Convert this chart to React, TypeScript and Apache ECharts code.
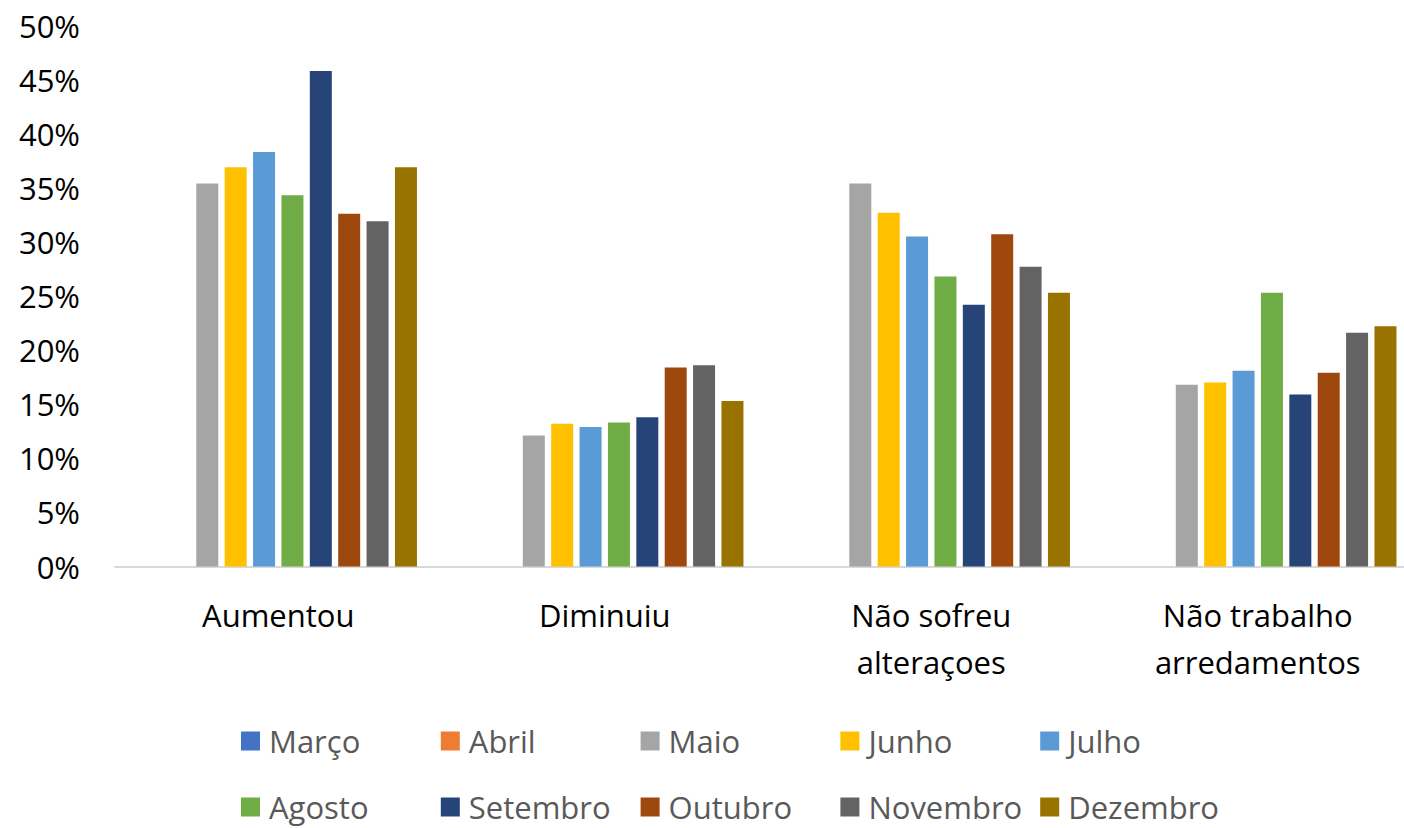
import React, { useEffect, useRef } from "react";
import * as echarts from "echarts";

const categories = ["Aumentou", "Diminuiu", "Não sofreu\nalteraçoes", "Não trabalho\narredamentos"];
const seriesNames = ["Março", "Abril", "Maio", "Junho", "Julho", "Agosto", "Setembro", "Outubro", "Novembro", "Dezembro"];
const colors = ["#4472C4", "#ED7D31", "#A5A5A5", "#FFC000", "#5B9BD5", "#70AD47", "#264478", "#9E480E", "#636363", "#997300"];

const marco: (number | null)[] = [null, null, null, null];
const abril: (number | null)[] = [null, null, null, null];
const maio = [35.4, 12.1, 35.4, 16.8];
const junho = [36.9, 13.2, 32.7, 17.0];
const julho = [38.3, 12.9, 30.5, 18.1];
const agosto = [34.3, 13.3, 26.8, 25.3];
const setembro = [45.8, 13.8, 24.2, 15.9];
const outubro = [32.6, 18.4, 30.7, 17.9];
const novembro = [31.9, 18.6, 27.7, 21.6];
const dezembro = [36.9, 15.3, 25.3, 22.2];

const seriesData = [marco, abril, maio, junho, julho, agosto, setembro, outubro, novembro, dezembro];
const yTicks = { min: 0, max: 50, interval: 5 };

const FONT = "'Open Sans', 'Noto Sans', sans-serif";

export default function App() {
  const ref = useRef<HTMLDivElement>(null);
  useEffect(() => {
    if (!ref.current) return;
    const chart = echarts.init(ref.current, undefined, { renderer: "svg" });
    const legends = [0, 1, 2, 3, 4].map((col) => ({
      orient: "vertical" as const,
      left: 241 + col * 199.8,
      top: 725,
      height: 140,
      padding: 0,
      itemWidth: 19,
      itemHeight: 19,
      itemGap: 34,
      icon: "rect",
      data: [seriesNames[col], seriesNames[col + 5]],
      textStyle: { fontFamily: FONT, fontSize: 31, color: "#595959", lineHeight: 32, padding: [0, 0, 0, 4] },
      selectedMode: false,
    }));
    chart.setOption({
      animation: false,
      color: colors,
      grid: { left: 115, right: 0, top: 25.5, bottom: 261.5, containLabel: false },
      legend: legends,
      xAxis: {
        type: "category",
        data: categories,
        axisLine: { lineStyle: { color: "#D9D9D9", width: 2 } },
        axisTick: { show: false },
        axisLabel: { interval: 0, margin: 25, fontFamily: FONT, fontSize: 31, color: "#000", lineHeight: 47 },
      },
      yAxis: {
        type: "value",
        min: yTicks.min,
        max: yTicks.max,
        interval: yTicks.interval,
        splitLine: { show: false },
        axisLine: { show: false },
        axisTick: { show: false },
        axisLabel: { formatter: "{value}%", margin: 35, fontFamily: FONT, fontSize: 31, color: "#000" },
      },
      series: seriesNames.map((name, i) => ({
        name,
        type: "bar",
        data: seriesData[i],
        barWidth: 22,
        barGap: "29%",
        itemStyle: { color: colors[i] },
      })),
    });
    return () => chart.dispose();
  }, []);
  return (
    <div style={{ position: "fixed", left: 0, top: 0, width: 1404, height: 828, overflow: "hidden", background: "#fff" }}>
      <div ref={ref} style={{ width: 1421, height: 828 }} />
    </div>
  );
}
